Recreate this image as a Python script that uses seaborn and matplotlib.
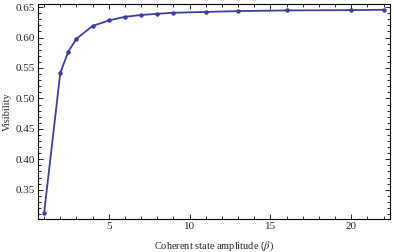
import matplotlib
matplotlib.use("Agg")
import matplotlib.pyplot as plt
from matplotlib.ticker import MultipleLocator
import pandas as pd
import seaborn as sns

# coherent state amplitude and visibility
beta = [1, 2, 2.5, 3, 4, 5, 6, 7, 8, 9, 11, 13, 16, 20, 22]
visibility = [0.312, 0.542, 0.577, 0.598, 0.619, 0.628, 0.634, 0.637,
              0.639, 0.6407, 0.642, 0.6434, 0.6445, 0.645, 0.6456]

df = pd.DataFrame({'beta': beta, 'Visibility': visibility})

sns.set_style('ticks')
plt.rcParams['font.family'] = ['Liberation Serif', 'DejaVu Serif']
plt.rcParams['mathtext.fontset'] = 'stix'

fig = plt.figure(figsize=(3.94, 2.52), dpi=100)
ax = fig.add_axes([0.0964, 0.131, 0.8934, 0.853])

sns.lineplot(x='beta', y='Visibility', data=df, ax=ax, color='#3d3d9e',
             marker='o', markersize=3.2, markeredgewidth=0, linewidth=1.3)

ax.set_xlim(0.62, 22.4)
ax.set_ylim(0.302, 0.655)
ax.xaxis.set_major_locator(MultipleLocator(5))
ax.xaxis.set_minor_locator(MultipleLocator(1))
ax.yaxis.set_major_locator(MultipleLocator(0.05))
ax.yaxis.set_minor_locator(MultipleLocator(0.01))
ax.yaxis.set_major_formatter(matplotlib.ticker.FormatStrFormatter('%.2f'))

ax.tick_params(which='both', direction='in', top=True, right=True,
               labelsize=8, color='black', width=0.6)
ax.tick_params(which='major', length=3.5, pad=2)
ax.tick_params(which='minor', length=2)
for s in ax.spines.values():
    s.set_linewidth(0.8)
    s.set_color('black')

ax.set_xlabel(r'Coherent state amplitude ($\beta$)', fontsize=7.5, labelpad=6)
ax.set_ylabel('Visibility', fontsize=7.5, labelpad=3)

fig.savefig('out.png', dpi=100)
plt.close()
